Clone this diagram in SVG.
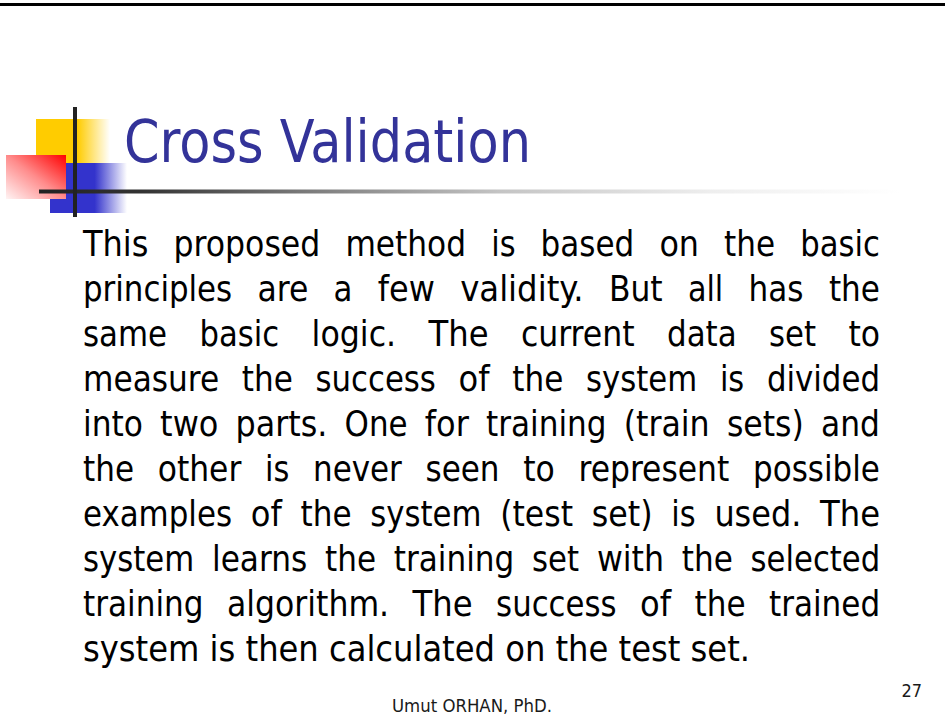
<svg xmlns="http://www.w3.org/2000/svg" width="945" height="720" viewBox="0 0 945 720">
  <defs>
    <linearGradient id="gYellow" x1="0" y1="0" x2="1" y2="0">
      <stop offset="0" stop-color="#FFCC00"/>
      <stop offset="0.56" stop-color="#FFCC00"/>
      <stop offset="1" stop-color="#FFCC00" stop-opacity="0"/>
    </linearGradient>
    <linearGradient id="gBlue" x1="0" y1="0" x2="1" y2="0">
      <stop offset="0" stop-color="#3333CC"/>
      <stop offset="0.58" stop-color="#3333CC"/>
      <stop offset="1" stop-color="#3333CC" stop-opacity="0"/>
    </linearGradient>
    <linearGradient id="gRed" x1="1" y1="0" x2="0" y2="1">
      <stop offset="0" stop-color="#FF0000"/>
      <stop offset="0.5" stop-color="#FF8C8C"/>
      <stop offset="1" stop-color="#FFF4F4"/>
    </linearGradient>
    <linearGradient id="gRule" gradientUnits="userSpaceOnUse" x1="39" y1="0" x2="900" y2="0">
      <stop offset="0" stop-color="#222222"/>
      <stop offset="0.12" stop-color="#333333"/>
      <stop offset="0.30" stop-color="#777777"/>
      <stop offset="0.535" stop-color="#C4C4C4"/>
      <stop offset="0.78" stop-color="#EEEEEE"/>
      <stop offset="1" stop-color="#FFFFFF"/>
    </linearGradient>
  </defs>
  <style>
    .title { font-family: "DejaVu Sans Condensed", "DejaVu Sans", sans-serif; font-size: 58px; fill: #333399; }
    .body { font-family: "DejaVu Sans Condensed", "DejaVu Sans", sans-serif; font-size: 36px; fill: #000000; }
    .foot { font-family: "DejaVu Sans Condensed", "DejaVu Sans", sans-serif; font-size: 18px; fill: #1a1a1a; }
  </style>

  <rect width="945" height="720" fill="#FFFFFF"/>

  <!-- top border -->
  <rect id="top-rule" x="0" y="3" width="945" height="3" fill="#000000"/>

  <!-- decorative corner mark -->
  <g id="logo">
    <rect x="36" y="119" width="74" height="44" fill="url(#gYellow)"/>
    <rect x="50" y="163" width="77" height="50" fill="url(#gBlue)"/>
    <rect x="6" y="155" width="60" height="44" fill="url(#gRed)"/>
    <rect x="39" y="189.5" width="861" height="4" fill="url(#gRule)"/>
    <rect x="73" y="107" width="4" height="110" fill="#222222"/>
  </g>

  <g id="title">
    <text class="title" x="124" y="162" textLength="407" lengthAdjust="spacingAndGlyphs">Cross Validation</text>
  </g>

  <!-- justified paragraph: each word placed on its own column -->
  <g id="body" class="body">
    <text class="body" y="256" lengthAdjust="spacingAndGlyphs">
      <tspan x="83" textLength="65.4" lengthAdjust="spacingAndGlyphs">This</tspan>
      <tspan x="173.5" textLength="146.8" lengthAdjust="spacingAndGlyphs">proposed</tspan>
      <tspan x="345.4" textLength="120.7" lengthAdjust="spacingAndGlyphs">method</tspan>
      <tspan x="491.2" textLength="24.3" lengthAdjust="spacingAndGlyphs">is</tspan>
      <tspan x="540.6" textLength="93.7" lengthAdjust="spacingAndGlyphs">based</tspan>
      <tspan x="659.4" textLength="39.6" lengthAdjust="spacingAndGlyphs">on</tspan>
      <tspan x="724.1" textLength="51" lengthAdjust="spacingAndGlyphs">the</tspan>
      <tspan x="800.2" textLength="79.7" lengthAdjust="spacingAndGlyphs">basic</tspan>
    </text>
    <text class="body" y="301">
      <tspan x="83" textLength="149.2" lengthAdjust="spacingAndGlyphs">principles</tspan>
      <tspan x="257.5" textLength="50.8" lengthAdjust="spacingAndGlyphs">are</tspan>
      <tspan x="333.6" textLength="18.9" lengthAdjust="spacingAndGlyphs">a</tspan>
      <tspan x="377.8" textLength="57.1" lengthAdjust="spacingAndGlyphs">few</tspan>
      <tspan x="460.2" textLength="123.4" lengthAdjust="spacingAndGlyphs">validity.</tspan>
      <tspan x="608.9" textLength="53.7" lengthAdjust="spacingAndGlyphs">But</tspan>
      <tspan x="687.9" textLength="35.4" lengthAdjust="spacingAndGlyphs">all</tspan>
      <tspan x="748.6" textLength="55" lengthAdjust="spacingAndGlyphs">has</tspan>
      <tspan x="828.9" textLength="51" lengthAdjust="spacingAndGlyphs">the</tspan>
    </text>
    <text class="body" y="346">
      <tspan x="83" textLength="84.1" lengthAdjust="spacingAndGlyphs">same</tspan>
      <tspan x="199.5" textLength="79.7" lengthAdjust="spacingAndGlyphs">basic</tspan>
      <tspan x="311.6" textLength="84.5" lengthAdjust="spacingAndGlyphs">logic.</tspan>
      <tspan x="428.5" textLength="60" lengthAdjust="spacingAndGlyphs">The</tspan>
      <tspan x="520.9" textLength="113.7" lengthAdjust="spacingAndGlyphs">current</tspan>
      <tspan x="667" textLength="69.7" lengthAdjust="spacingAndGlyphs">data</tspan>
      <tspan x="769.1" textLength="47" lengthAdjust="spacingAndGlyphs">set</tspan>
      <tspan x="848.5" textLength="31.6" lengthAdjust="spacingAndGlyphs">to</tspan>
    </text>
    <text class="body" y="391">
      <tspan x="83" textLength="136.1" lengthAdjust="spacingAndGlyphs">measure</tspan>
      <tspan x="241.8" textLength="51" lengthAdjust="spacingAndGlyphs">the</tspan>
      <tspan x="315.5" textLength="120.4" lengthAdjust="spacingAndGlyphs">success</tspan>
      <tspan x="458.6" textLength="31" lengthAdjust="spacingAndGlyphs">of</tspan>
      <tspan x="512.3" textLength="51" lengthAdjust="spacingAndGlyphs">the</tspan>
      <tspan x="586" textLength="111.2" lengthAdjust="spacingAndGlyphs">system</tspan>
      <tspan x="719.9" textLength="24.3" lengthAdjust="spacingAndGlyphs">is</tspan>
      <tspan x="766.9" textLength="113.1" lengthAdjust="spacingAndGlyphs">divided</tspan>
    </text>
    <text class="body" y="436">
      <tspan x="83" textLength="59.9" lengthAdjust="spacingAndGlyphs">into</tspan>
      <tspan x="160.1" textLength="58.3" lengthAdjust="spacingAndGlyphs">two</tspan>
      <tspan x="235.6" textLength="91.8" lengthAdjust="spacingAndGlyphs">parts.</tspan>
      <tspan x="344.6" textLength="63" lengthAdjust="spacingAndGlyphs">One</tspan>
      <tspan x="424.8" textLength="44" lengthAdjust="spacingAndGlyphs">for</tspan>
      <tspan x="486" textLength="120.5" lengthAdjust="spacingAndGlyphs">training</tspan>
      <tspan x="623.7" textLength="86" lengthAdjust="spacingAndGlyphs">(train</tspan>
      <tspan x="726.9" textLength="76.9" lengthAdjust="spacingAndGlyphs">sets)</tspan>
      <tspan x="821" textLength="58.9" lengthAdjust="spacingAndGlyphs">and</tspan>
    </text>
    <text class="body" y="481">
      <tspan x="83" textLength="51" lengthAdjust="spacingAndGlyphs">the</tspan>
      <tspan x="157.7" textLength="83.6" lengthAdjust="spacingAndGlyphs">other</tspan>
      <tspan x="265" textLength="24.3" lengthAdjust="spacingAndGlyphs">is</tspan>
      <tspan x="313" textLength="88.8" lengthAdjust="spacingAndGlyphs">never</tspan>
      <tspan x="425.5" textLength="74" lengthAdjust="spacingAndGlyphs">seen</tspan>
      <tspan x="523.2" textLength="31.6" lengthAdjust="spacingAndGlyphs">to</tspan>
      <tspan x="578.5" textLength="150.8" lengthAdjust="spacingAndGlyphs">represent</tspan>
      <tspan x="753" textLength="126.9" lengthAdjust="spacingAndGlyphs">possible</tspan>
    </text>
    <text class="body" y="526">
      <tspan x="83" textLength="149" lengthAdjust="spacingAndGlyphs">examples</tspan>
      <tspan x="250.8" textLength="31" lengthAdjust="spacingAndGlyphs">of</tspan>
      <tspan x="300.5" textLength="51" lengthAdjust="spacingAndGlyphs">the</tspan>
      <tspan x="370.3" textLength="111.2" lengthAdjust="spacingAndGlyphs">system</tspan>
      <tspan x="500.2" textLength="72.8" lengthAdjust="spacingAndGlyphs">(test</tspan>
      <tspan x="591.8" textLength="60.8" lengthAdjust="spacingAndGlyphs">set)</tspan>
      <tspan x="671.3" textLength="24.3" lengthAdjust="spacingAndGlyphs">is</tspan>
      <tspan x="714.4" textLength="86.9" lengthAdjust="spacingAndGlyphs">used.</tspan>
      <tspan x="820" textLength="60" lengthAdjust="spacingAndGlyphs">The</tspan>
    </text>
    <text class="body" y="571">
      <tspan x="83" textLength="111.2" lengthAdjust="spacingAndGlyphs">system</tspan>
      <tspan x="212" textLength="95.2" lengthAdjust="spacingAndGlyphs">learns</tspan>
      <tspan x="325" textLength="51" lengthAdjust="spacingAndGlyphs">the</tspan>
      <tspan x="393.8" textLength="120.5" lengthAdjust="spacingAndGlyphs">training</tspan>
      <tspan x="532.1" textLength="47" lengthAdjust="spacingAndGlyphs">set</tspan>
      <tspan x="596.9" textLength="67.1" lengthAdjust="spacingAndGlyphs">with</tspan>
      <tspan x="681.8" textLength="51" lengthAdjust="spacingAndGlyphs">the</tspan>
      <tspan x="750.6" textLength="129.6" lengthAdjust="spacingAndGlyphs">selected</tspan>
    </text>
    <text class="body" y="616">
      <tspan x="83" textLength="120.5" lengthAdjust="spacingAndGlyphs">training</tspan>
      <tspan x="227" textLength="162.1" lengthAdjust="spacingAndGlyphs">algorithm.</tspan>
      <tspan x="412.6" textLength="60" lengthAdjust="spacingAndGlyphs">The</tspan>
      <tspan x="496.1" textLength="120.4" lengthAdjust="spacingAndGlyphs">success</tspan>
      <tspan x="640" textLength="31" lengthAdjust="spacingAndGlyphs">of</tspan>
      <tspan x="694.5" textLength="51" lengthAdjust="spacingAndGlyphs">the</tspan>
      <tspan x="769" textLength="111.1" lengthAdjust="spacingAndGlyphs">trained</tspan>
    </text>
    <text class="body" x="83" y="661" textLength="667" lengthAdjust="spacingAndGlyphs">system is then calculated on the test set.</text>
  </g>

  <g id="footer">
    <text class="foot" x="392" y="712" textLength="160" lengthAdjust="spacingAndGlyphs">Umut ORHAN, PhD.</text>
    <text class="foot" x="922" y="697" text-anchor="end">27</text>
  </g>
</svg>
